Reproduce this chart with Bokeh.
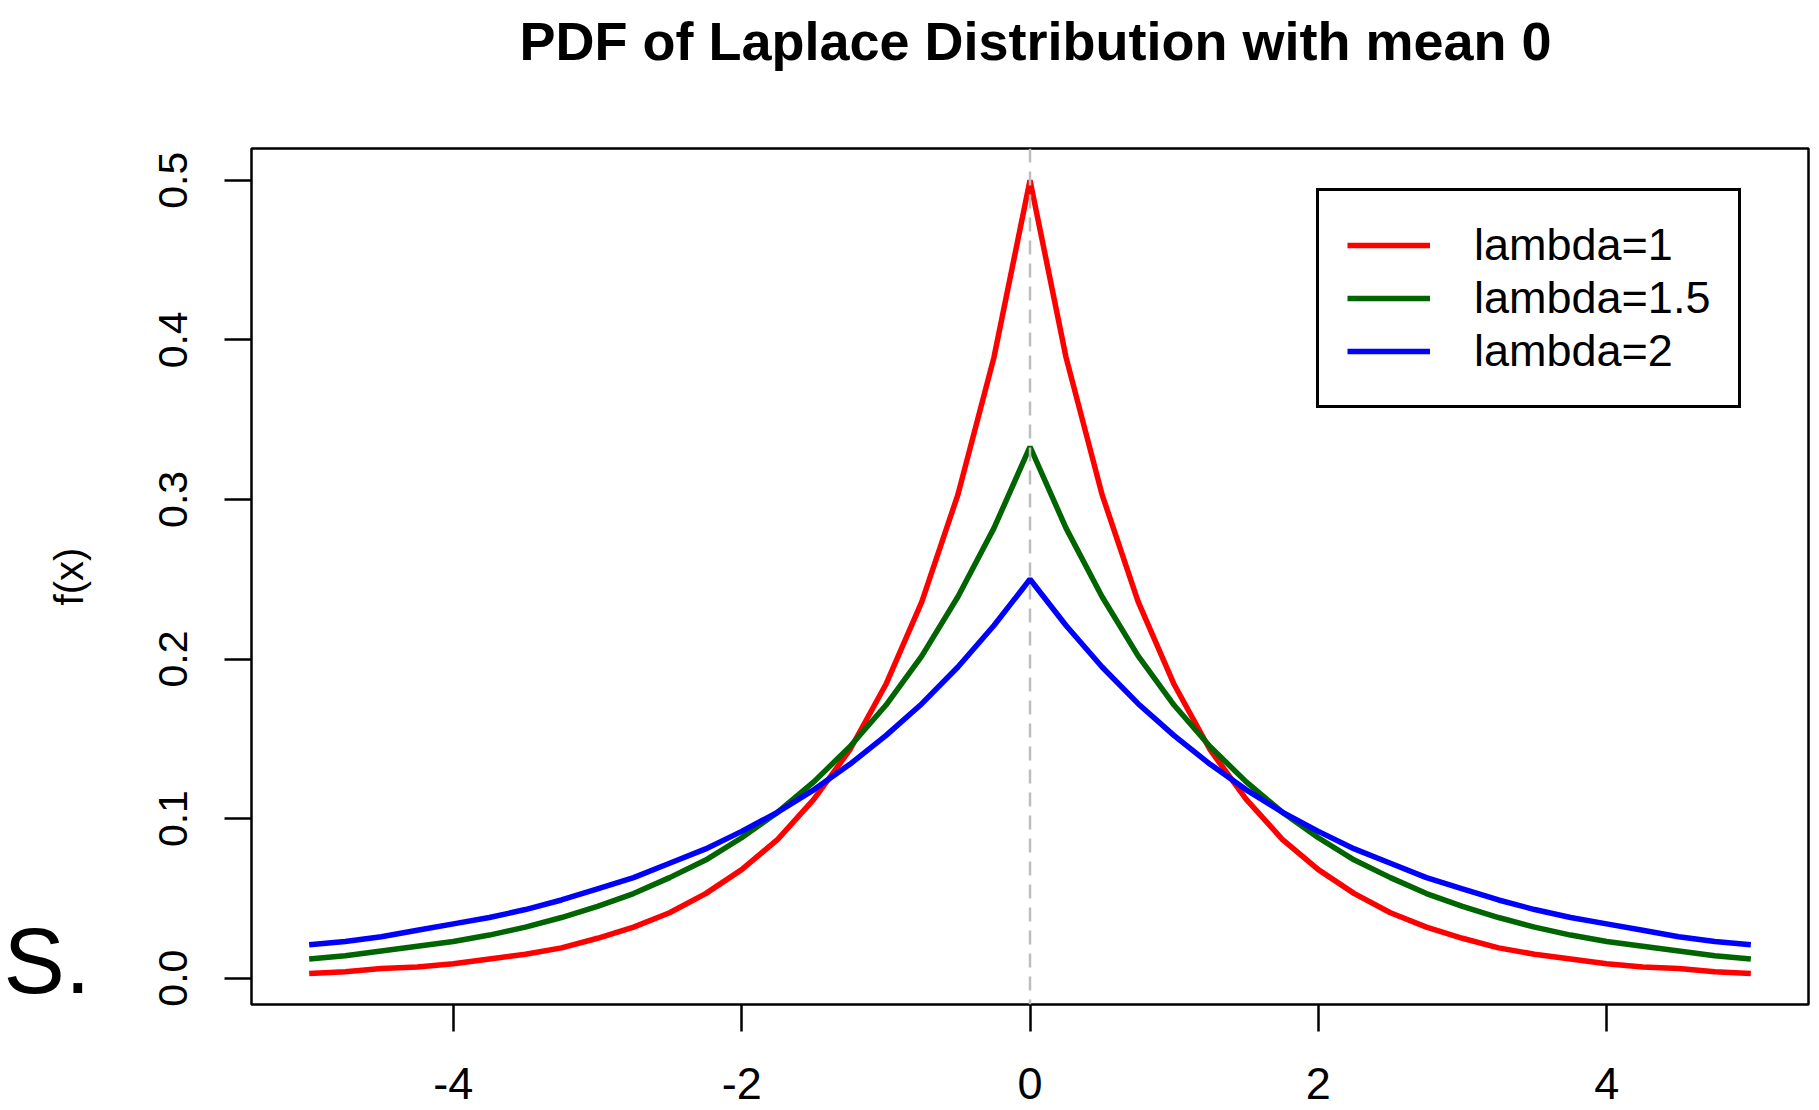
import math
from bokeh.plotting import figure
from bokeh.models import (Range1d, FixedTicker, Span, PrintfTickFormatter, Title,
                          LinearAxis)
from bokeh.embed import file_html
from bokeh.resources import INLINE

# ---- data ----
x_vals = [-5.0, -4.75, -4.5, -4.25, -4.0, -3.75, -3.5, -3.25, -3.0, -2.75,
          -2.5, -2.25, -2.0, -1.75, -1.5, -1.25, -1.0, -0.75, -0.5, -0.25,
          0.0,
          0.25, 0.5, 0.75, 1.0, 1.25, 1.5, 1.75, 2.0, 2.25, 2.5,
          2.75, 3.0, 3.25, 3.5, 3.75, 4.0, 4.25, 4.5, 4.75, 5.0]

pdf_lambda_1 = [0.003, 0.004, 0.006, 0.007, 0.009, 0.012, 0.015, 0.019, 0.025, 0.032,
                0.041, 0.053, 0.068, 0.087, 0.112, 0.143, 0.184, 0.236, 0.303, 0.389,
                0.500,
                0.389, 0.303, 0.236, 0.184, 0.143, 0.112, 0.087, 0.068, 0.053, 0.041,
                0.032, 0.025, 0.019, 0.015, 0.012, 0.009, 0.007, 0.006, 0.004, 0.003]

pdf_lambda_15 = [0.012, 0.014, 0.017, 0.020, 0.023, 0.027, 0.032, 0.038, 0.045, 0.053,
                 0.063, 0.074, 0.088, 0.104, 0.123, 0.145, 0.171, 0.202, 0.239, 0.282,
                 0.333,
                 0.282, 0.239, 0.202, 0.171, 0.145, 0.123, 0.104, 0.088, 0.074, 0.063,
                 0.053, 0.045, 0.038, 0.032, 0.027, 0.023, 0.020, 0.017, 0.014, 0.012]

pdf_lambda_2 = [0.021, 0.023, 0.026, 0.030, 0.034, 0.038, 0.043, 0.049, 0.056, 0.063,
                0.072, 0.081, 0.092, 0.104, 0.118, 0.134, 0.152, 0.172, 0.195, 0.221,
                0.250,
                0.221, 0.195, 0.172, 0.152, 0.134, 0.118, 0.104, 0.092, 0.081, 0.072,
                0.063, 0.056, 0.049, 0.043, 0.038, 0.034, 0.030, 0.026, 0.023, 0.021]

series_labels = ["lambda=1", "lambda=1.5", "lambda=2"]
series_colors = ["#FF0000", "#006400", "#0000FF"]

x_ticks = [-4, -2, 0, 2, 4]
y_ticks = [0.0, 0.1, 0.2, 0.3, 0.4, 0.5]

title_text = "PDF of Laplace Distribution with mean 0"
y_label = "f(x)"
corner_text = "S."
corner_level = 0.011   # height (in y units) of the stray "S." at the left edge

FONT = "Liberation Sans"

p = figure(width=1811, height=1110, title=None,
           x_range=Range1d(-5.4, 5.4), y_range=Range1d(-0.0165, 0.5199),
           output_backend="svg", toolbar_location=None,
           min_border_left=250, min_border_right=3,
           min_border_top=148, min_border_bottom=106)

p.grid.visible = False
p.outline_line_color = "black"
p.outline_line_width = 2.5
p.outline_line_alpha = 1
p.background_fill_color = "white"
p.border_fill_color = "white"

# spacer (nearest the frame) then the real title above it
p.add_layout(Title(text=" ", text_font=FONT, text_font_size="10px", standoff=60), "above")
p.add_layout(Title(text=title_text, text_font=FONT, text_font_size="54px",
                   text_font_style="bold", text_color="black", align="left",
                   offset=268, standoff=10), "above")

for ax in (p.xaxis[0], p.yaxis[0]):
    ax.axis_line_color = None
    ax.major_tick_out = 27
    ax.major_tick_in = 0
    ax.minor_tick_out = 0
    ax.minor_tick_in = 0
    ax.major_tick_line_width = 2.5
    ax.major_tick_line_color = "black"
    ax.major_label_text_font = FONT
    ax.major_label_text_color = "black"

p.xaxis.ticker = FixedTicker(ticks=x_ticks)
p.xaxis.formatter = PrintfTickFormatter(format="%d")
p.xaxis.major_label_text_font_size = "45px"
p.xaxis.major_label_standoff = 36

p.yaxis.ticker = FixedTicker(ticks=y_ticks)
p.yaxis.formatter = PrintfTickFormatter(format="%.1f")
p.yaxis.major_label_text_font_size = "41px"
p.yaxis.major_label_orientation = "vertical"
p.yaxis.major_label_standoff = 37
p.yaxis.axis_label = y_label
p.yaxis.axis_label_text_font = FONT
p.yaxis.axis_label_text_font_size = "40px"
p.yaxis.axis_label_text_font_style = "normal"
p.yaxis.axis_label_text_color = "black"
p.yaxis.axis_label_standoff = 66

series = [pdf_lambda_1, pdf_lambda_15, pdf_lambda_2]
for ys, lab, col in zip(series, series_labels, series_colors):
    p.line(x_vals, ys, line_color=col, line_width=5.5, legend_label=lab)

p.add_layout(Span(location=0, dimension="height", line_color="#BEBEBE",
                  line_dash="14 9", line_width=2.5))

lg = p.legend[0]
lg.location = (1065, 596)
lg.border_line_color = "black"
lg.border_line_alpha = 1
lg.border_line_width = 3
lg.background_fill_color = "white"
lg.background_fill_alpha = 1
lg.label_text_font = FONT
lg.label_text_font_size = "45px"
lg.label_text_color = "black"
lg.glyph_width = 83
lg.glyph_height = 48
lg.label_height = 52
lg.spacing = 1
lg.padding = 28
lg.label_standoff = 44
lg.margin = 0

# stray "S." at the lower-left edge of the picture, drawn as the single
# label of an otherwise invisible outer axis (text outside the frame)
corner_axis = LinearAxis(ticker=FixedTicker(ticks=[corner_level]),
                         major_label_overrides={corner_level: corner_text},
                         axis_line_color=None, major_tick_out=0, major_tick_in=0,
                         minor_tick_out=0, minor_tick_in=0,
                         major_label_orientation="horizontal",
                         major_label_standoff=-47,
                         major_label_text_font=FONT,
                         major_label_text_font_style="normal",
                         major_label_text_font_size="92px",
                         major_label_text_color="black")
p.add_layout(corner_axis, "left")

open("out.html", "w").write(file_html(p, INLINE))
